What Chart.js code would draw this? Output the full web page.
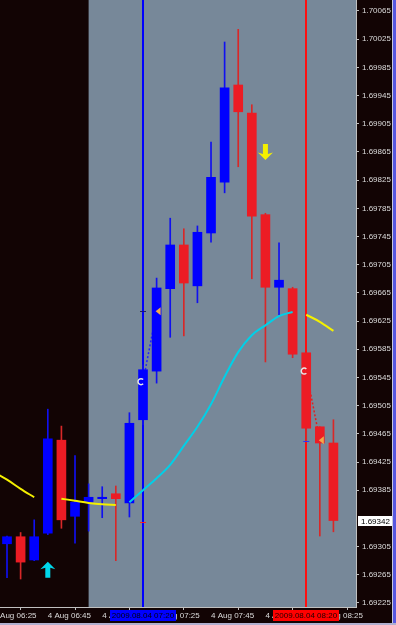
<!DOCTYPE html>
<html>
<head>
<meta charset="utf-8">
<script src="https://cdn.jsdelivr.net/npm/chart.js@4.4.0/dist/chart.umd.min.js"></script>
<style>
  html, body { margin: 0; padding: 0; background: #120404; }
  canvas { display: block; }
</style>
</head>
<body>
<canvas id="chart" width="396" height="625"></canvas>
<script>
// 5 minute bars, index 0 = 4 Aug 06:25
const candleIdx = [1, 2, 3, 4, 5, 6, 7, 8, 9, 10, 11, 12, 13, 14, 15, 16, 17, 18, 19, 20, 21, 22, 23, 24, 25];
const opens  = [1.69309, 1.69319, 1.69286, 1.69324, 1.69456, 1.69348, 1.69368, 1.69373, 1.69380, 1.69367, 1.69485, 1.69554, 1.69671, 1.69733, 1.69675, 1.69750, 1.69822, 1.69960, 1.69920, 1.69776, 1.69673, 1.69671, 1.69580, 1.69475, 1.69452];
const highs  = [1.69320, 1.69325, 1.69343, 1.69500, 1.69476, 1.69434, 1.69394, 1.69390, 1.69391, 1.69495, 1.69563, 1.69686, 1.69771, 1.69756, 1.69760, 1.69879, 1.70021, 1.70039, 1.69932, 1.69778, 1.69736, 1.69673, 1.69580, 1.69475, 1.69485];
const lows   = [1.69261, 1.69259, 1.69285, 1.69322, 1.69331, 1.69310, 1.69327, 1.69346, 1.69285, 1.69347, 1.69478, 1.69537, 1.69602, 1.69604, 1.69651, 1.69737, 1.69807, 1.69844, 1.69685, 1.69567, 1.69634, 1.69573, 1.69455, 1.69320, 1.69326];
const closes = [1.69319, 1.69283, 1.69319, 1.69458, 1.69343, 1.69368, 1.69375, 1.69375, 1.69373, 1.69480, 1.69556, 1.69672, 1.69733, 1.69679, 1.69751, 1.69829, 1.69956, 1.69922, 1.69774, 1.69673, 1.69683, 1.69578, 1.69473, 1.69452, 1.69342];

// moving average, index 0..25 (yellow = falling, cyan = rising)
const maYellow = [1.69411, 1.69400, 1.69387, 1.69375, null, 1.69373, 1.69370, 1.69367, 1.69365, 1.69364,
  null, null, null, null, null, null, null, null, null, null, null, null, null, 1.69634, 1.69624, 1.69611];
const maCyan = [null, null, null, null, null, null, null, null, null, null,
  1.69368, 1.69385, 1.69402, 1.69421, 1.69448, 1.69475, 1.69507, 1.69546, 1.69581, 1.69605, 1.69619, 1.69632, 1.69638, null, null, null];

const priceTicks = [1.70065, 1.70025, 1.69985, 1.69945, 1.69905, 1.69865, 1.69825, 1.69785, 1.69745, 1.69705,
  1.69665, 1.69625, 1.69585, 1.69545, 1.69505, 1.69465, 1.69425, 1.69385, 1.69305, 1.69265, 1.69225];
const timeTickIdx = [0, 4, 8, 12, 16, 20, 24];
const timeTickLabels = ['4 Aug 06:25', '4 Aug 06:45', '4 Aug 07:05', '4 Aug 07:25', '4 Aug 07:45', '4 Aug 08:05', '4 Aug 08:25'];

const sessionStart = 7;          // 07:00
const blueLine = { i: 11, label: '2009.08.04 07:20' };
const redLine = { i: 23, label: '2009.08.04 08:20' };
const buyArrow = { i: 4, p: 1.69272 };
const sellArrow = { i: 20, p: 1.69865 };
const hookMarks = [[11, 1.69539], [23, 1.69554]];
const triangleMarks = [[12, 1.69639], [24, 1.69456]];
const lineMarks = [[11, 1.69340], [11, 1.69639], [23, 1.69455]];

const BLUE = '#0000ff';
const RED = '#ec1c24';
const isUp = closes.map((c, k) => c >= opens[k]);

const mtPlugin = {
  id: 'mt',
  beforeDraw(chart) {
    const { ctx, chartArea: a, scales: { x } } = chart;
    ctx.save();
    ctx.fillStyle = '#120404';
    ctx.fillRect(0, 0, chart.width, chart.height);
    const gx = x.getPixelForValue(sessionStart);
    ctx.fillStyle = '#778899';
    ctx.fillRect(gx, a.top, a.right - gx, a.bottom - a.top);
    ctx.restore();
  },
  beforeDatasetsDraw(chart) {
    const { ctx, chartArea: a, scales: { x } } = chart;
    ctx.save();
    ctx.fillStyle = BLUE;
    ctx.fillRect(Math.round(x.getPixelForValue(blueLine.i)) - 1, a.top, 2, a.bottom - a.top);
    ctx.fillStyle = '#ff1010';
    ctx.fillRect(Math.round(x.getPixelForValue(redLine.i)) - 1, a.top, 2, a.bottom - a.top);
    ctx.restore();
  },
  afterDatasetsDraw(chart) {
    const { ctx, scales: { x, y } } = chart;
    ctx.save();
    // signal arrows
    const arrow = (cx, cy, dir, color) => {
      const pts = [[0, -8], [7.5, -0.5], [2.5, -2], [2.5, 8], [-2.5, 8], [-2.5, -2], [-7.5, -0.5]];
      ctx.beginPath();
      pts.forEach(([dx, dy], k) => {
        const px = cx + dx, py = cy + dy * dir;
        k ? ctx.lineTo(px, py) : ctx.moveTo(px, py);
      });
      ctx.closePath();
      ctx.fillStyle = color;
      ctx.fill();
    };
    arrow(x.getPixelForValue(buyArrow.i), y.getPixelForValue(buyArrow.p), 1, '#00d8ec');
    arrow(x.getPixelForValue(sellArrow.i), y.getPixelForValue(sellArrow.p), -1, '#f4f000');

    // hooks
    ctx.strokeStyle = '#e8e8e8';
    ctx.lineWidth = 1.5;
    hookMarks.forEach(([i, p]) => {
      ctx.beginPath();
      ctx.arc(x.getPixelForValue(i) - 2, y.getPixelForValue(p), 3, -Math.PI / 4, Math.PI / 4, true);
      ctx.stroke();
    });
    // triangles
    ctx.fillStyle = '#f2a94a';
    triangleMarks.forEach(([i, p]) => {
      const cx = x.getPixelForValue(i), cy = y.getPixelForValue(p);
      ctx.beginPath();
      ctx.moveTo(cx - 1, cy);
      ctx.lineTo(cx + 4, cy - 4);
      ctx.lineTo(cx + 4, cy + 4);
      ctx.closePath();
      ctx.fill();
    });
    // small dashes on the vertical lines
    const dashColors = ['#ff2020', '#1a1a70', '#3030ff'];
    lineMarks.forEach(([i, p], k) => {
      ctx.fillStyle = dashColors[k];
      ctx.fillRect(x.getPixelForValue(i) - 3, Math.round(y.getPixelForValue(p)), 6, 1);
    });
    ctx.restore();
  },
  afterDraw(chart) {
    const { ctx, chartArea: a, scales: { x, y } } = chart;
    ctx.save();
    ctx.font = '8px "Liberation Sans", Arial, sans-serif';
    ctx.textBaseline = 'middle';
    // current price
    const last = closes[closes.length - 1];
    const py = y.getPixelForValue(last);
    ctx.fillStyle = '#ffffff';
    ctx.fillRect(a.right + 2, Math.round(py) - 5, 34, 10);
    ctx.fillStyle = '#000000';
    ctx.fillText(last.toFixed(5), a.right + 5, Math.round(py) + 0.5);
    // vertical line time boxes
    [[blueLine, BLUE, '#000010'], [redLine, '#ff0000', '#200000']].forEach(([ln, bg, fg]) => {
      const cx = Math.round(x.getPixelForValue(ln.i));
      ctx.fillStyle = bg;
      ctx.fillRect(cx - 33, a.bottom + 3, 66, 11);
      ctx.fillStyle = fg;
      ctx.textAlign = 'center';
      ctx.fillText(ln.label, cx, a.bottom + 9);
    });
    // window frame
    ctx.fillStyle = '#c8c8dc';
    ctx.fillRect(chart.width - 4, 0, 1, chart.height);
    ctx.fillStyle = '#5858e0';
    ctx.fillRect(chart.width - 3, 0, 3, chart.height);
    ctx.fillStyle = '#b0b0d0';
    ctx.fillRect(0, chart.height - 2, chart.width, 2);
    ctx.restore();
  }
};

const ctx = document.getElementById('chart').getContext('2d');
new Chart(ctx, {
  type: 'bar',
  data: {
    datasets: [
      {
        type: 'line',
        data: maYellow.map((v, i) => ({ x: i, y: v })),
        borderColor: '#f4f000',
        borderWidth: 2,
        pointRadius: 0,
        cubicInterpolationMode: 'monotone',
        spanGaps: false,
        order: 1
      },
      {
        type: 'line',
        data: maCyan.map((v, i) => ({ x: i, y: v })),
        borderColor: '#00d0e8',
        borderWidth: 2,
        pointRadius: 0,
        cubicInterpolationMode: 'monotone',
        spanGaps: false,
        order: 1
      },
      {
        data: candleIdx.map((i, k) => ({ x: i, y: [opens[k], closes[k]] })),
        backgroundColor: isUp.map(u => u ? BLUE : RED),
        barThickness: 9,
        grouped: false,
        order: 2
      },
      {
        data: candleIdx.map((i, k) => ({ x: i, y: [lows[k], highs[k]] })),
        backgroundColor: isUp.map(u => u ? '#1010f0' : '#d82828'),
        barThickness: 1,
        grouped: false,
        order: 3
      },
      {
        type: 'line',
        data: [hookMarks[0], triangleMarks[0]].map(([i, p]) => ({ x: i, y: p })),
        borderColor: '#2020ff',
        borderWidth: 1.5,
        borderDash: [2, 2],
        pointRadius: 0,
        order: 5
      },
      {
        type: 'line',
        data: [hookMarks[1], triangleMarks[1]].map(([i, p]) => ({ x: i, y: p })),
        borderColor: '#e02020',
        borderWidth: 1.5,
        borderDash: [2, 2],
        pointRadius: 0,
        order: 5
      }
    ]
  },
  options: {
    responsive: false,
    animation: false,
    events: [],
    layout: { padding: 0 },
    plugins: { legend: { display: false }, tooltip: { enabled: false } },
    scales: {
      x: {
        type: 'linear',
        offset: false,
        min: 0.485,
        max: 26.66,
        afterBuildTicks: s => { s.ticks = timeTickIdx.map(v => ({ value: v })); },
        afterFit: s => { s.height = 18; s.paddingLeft = 0; s.paddingRight = 0; },
        grid: { drawOnChartArea: false, tickLength: 3, color: '#c0c0c0' },
        border: { color: '#c0c0c0' },
        ticks: {
          autoSkip: false,
          maxRotation: 0,
          minRotation: 0,
          align: 'start',
          padding: 1,
          color: '#dcdcdc',
          font: { family: '"Liberation Sans", Arial, sans-serif', size: 8 },
          callback: (v, k) => timeTickLabels[k]
        }
      },
      y: {
        type: 'linear',
        position: 'right',
        min: 1.692193,
        max: 1.700806,
        afterBuildTicks: s => { s.ticks = priceTicks.map(v => ({ value: v })); },
        afterFit: s => { s.width = 40; s.paddingTop = 0; s.paddingBottom = 0; },
        grid: { drawOnChartArea: false, tickLength: 3, color: '#c0c0c0' },
        border: { color: '#c0c0c0' },
        ticks: {
          autoSkip: false,
          padding: 3,
          color: '#dcdcdc',
          font: { family: '"Liberation Sans", Arial, sans-serif', size: 8 },
          callback: v => v.toFixed(5)
        }
      }
    }
  },
  plugins: [mtPlugin]
});
</script>
</body>
</html>
